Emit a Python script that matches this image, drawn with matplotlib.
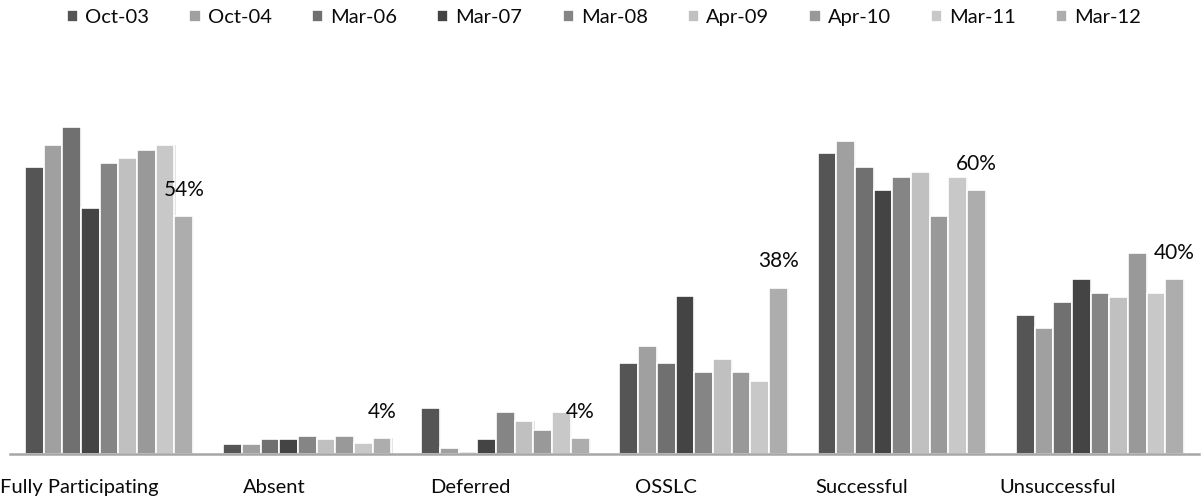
import matplotlib
matplotlib.use("Agg")
import matplotlib.pyplot as plt
import numpy as np

plt.rcParams['font.family'] = ['Lato', 'DejaVu Sans']

categories = ["Fully Participating", "Absent", "Deferred", "OSSLC",
              "Successful", "Unsuccessful"]
periods = ["Oct-03", "Oct-04", "Mar-06", "Mar-07", "Mar-08",
           "Apr-09", "Apr-10", "Mar-11", "Mar-12"]

# percent values per period, one entry per category
oct03 = [65.2, 2.3, 10.5, 20.7, 68.3, 31.6]
oct04 = [70.3, 2.3, 1.4, 24.5, 71.1, 28.6]
mar06 = [74.3, 3.4, 0.5, 20.7, 65.3, 34.6]
mar07 = [56.0, 3.4, 3.3, 35.9, 60.0, 39.7]
mar08 = [66.2, 4.1, 9.5, 18.7, 63.0, 36.7]
apr09 = [67.3, 3.4, 7.5, 21.7, 64.1, 35.7]
apr10 = [69.2, 4.1, 5.5, 18.7, 54.1, 45.7]
mar11 = [70.3, 2.5, 9.5, 16.7, 63.0, 36.7]
mar12 = [54.0, 3.6, 3.6, 37.8, 60.0, 39.7]

series = [oct03, oct04, mar06, mar07, mar08, apr09, apr10, mar11, mar12]
colors = ["#555555", "#a0a0a0", "#707070", "#444444", "#858585",
          "#c0c0c0", "#999999", "#c8c8c8", "#adadad"]

fig = plt.figure(figsize=(12.01, 5.03), dpi=100)
ax = fig.add_axes([10 / 1201, 49 / 503, 1189 / 1201, 352 / 503])

x = np.arange(len(categories))
w = 0.0943
n = len(series)
for i, (vals, c, lab) in enumerate(zip(series, colors, periods)):
    pos = x + (i - (n - 1) / 2) * w
    # faint shadow behind each bar
    ax.bar(pos + 0.006, vals, w, color="#e4e4e4", zorder=1)
    ax.bar(pos, vals, w, color=c, edgecolor="white", linewidth=1.2,
           label=lab, zorder=2)

# labels on the last series
last_pos = x + (n - 1 - (n - 1) / 2) * w
for px, v in zip(last_pos, mar12):
    ax.annotate(f"{round(v):.0f}%", (px, v), xytext=(0, 19),
                textcoords="offset points", ha="center", va="center",
                fontsize=15, color="#0a0a0a", zorder=3)

ax.set_xlim(-0.5, len(categories) - 0.5)
ax.set_ylim(0, 80)
ax.set_yticks([])
ticks = x - 0.152 - 0.0126 * x
ax.set_xticks(ticks)
ax.set_xticklabels(categories, fontsize=14.5, color="#0a0a0a")
ax.tick_params(axis="x", length=0, pad=18)
for s in ["top", "right", "left"]:
    ax.spines[s].set_visible(False)
ax.spines["bottom"].set_color("#a6a6a6")
ax.spines["bottom"].set_linewidth(1.8)
ax.spines["bottom"].set_zorder(4)

handles, labels = ax.get_legend_handles_labels()
fig.legend(handles, labels, loc="upper center", bbox_to_anchor=(0.503, 1.018),
           ncol=9, frameon=False, fontsize=14.5, handlelength=0.55,
           handleheight=0.55, handletextpad=0.35, columnspacing=2.0,
           labelcolor="#0a0a0a")

fig.savefig("out.png", dpi=100, facecolor="white")
